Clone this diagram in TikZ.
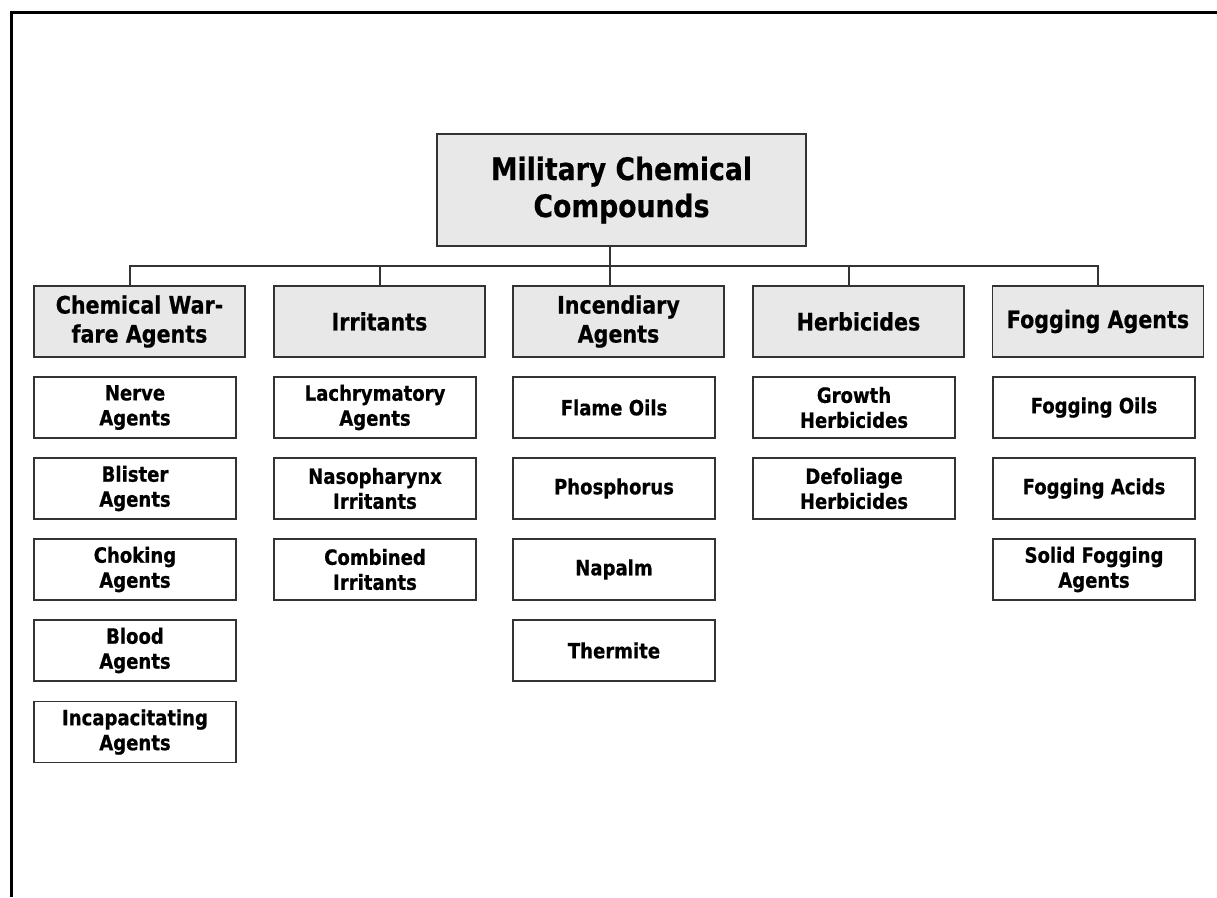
\documentclass[tikz,border=0pt]{standalone}
\usepackage{fontspec}
\setmainfont{DejaVu Sans}[FakeStretch=0.86, BoldFeatures={FakeBold=0.6}]
\begin{document}
\begin{tikzpicture}[x=1pt,y=-1pt,
  boxline/.style={draw=black!80, line width=1.3pt},
  rootbox/.style={boxline, fill=black!9, minimum width=369pt, minimum height=112pt, align=center, inner sep=0pt,
    font=\fontsize{31}{37}\selectfont\bfseries},
  catbox/.style={boxline, fill=black!9, minimum width=211pt, minimum height=71pt, align=center, inner sep=0pt,
    font=\fontsize{24}{29}\selectfont\bfseries},
  subbox/.style={boxline, fill=white, minimum width=202pt, minimum height=61pt, align=center, inner sep=0pt,
    font=\fontsize{21}{25}\selectfont\bfseries},
  conn/.style={draw=black!80, line width=1.1pt}]
\useasboundingbox (0,0) rectangle (1217,897);
\draw[line width=2.6pt] (11.5,897) -- (11.5,12.5) -- (1217,12.5);

\node[rootbox] (root) at (621.5,190) {Military Chemical\\Compounds};

\node[catbox] (cwa)  at (139.5,321.5) {Chemical War-\\fare Agents};
\node[catbox] (irr)  at (379.5,321.5) {Irritants};
\node[catbox] (inc)  at (618.5,321.5) {Incendiary\\Agents};
\node[catbox] (herb) at (858.5,321.5) {Herbicides};
\node[catbox] (fog)  at (1098,321.5) {Fogging Agents};

\node[subbox] (nerve)   at (135,407.5) {Nerve\\Agents};
\node[subbox] (blister) at (135,488.5) {Blister\\Agents};
\node[subbox] (choking) at (135,569.5) {Choking\\Agents};
\node[subbox] (blood)   at (135,650.5) {Blood\\Agents};
\node[subbox] (incap)   at (135,732) {Incapacitating\\Agents};

\node[subbox] (lach)  at (375,407.5) {Lachrymatory\\Agents};
\node[subbox] (naso)  at (375,488.5) {Nasopharynx\\Irritants};
\node[subbox] (comb)  at (375,569.5) {Combined\\Irritants};

\node[subbox] (flame) at (614,407.5) {Flame Oils};
\node[subbox] (phos)  at (614,488.5) {Phosphorus};
\node[subbox] (napalm) at (614,569.5) {Napalm};
\node[subbox] (therm) at (614,650.5) {Thermite};

\node[subbox] (growth) at (854,407.5) {Growth\\Herbicides};
\node[subbox] (defol)  at (854,488.5) {Defoliage\\Herbicides};

\node[subbox] (fogoil)  at (1094,407.5) {Fogging Oils};
\node[subbox] (fogacid) at (1094,488.5) {Fogging Acids};
\node[subbox] (solid)   at (1094,569.5) {Solid Fogging\\Agents};

\coordinate (bus) at (610,266);
\draw[conn] ([xshift=-11.5pt]root.south) -- ([xshift=-8.5pt]inc.north);
\draw[conn] ([xshift=-9.5pt]cwa.north) |- (bus) -| (fog.north);
\draw[conn] ([xshift=0.5pt]irr.north) -- ([xshift=0.5pt]irr.north |- bus);
\draw[conn] ([xshift=-9.5pt]herb.north) -- ([xshift=-9.5pt]herb.north |- bus);
\end{tikzpicture}
\end{document}
